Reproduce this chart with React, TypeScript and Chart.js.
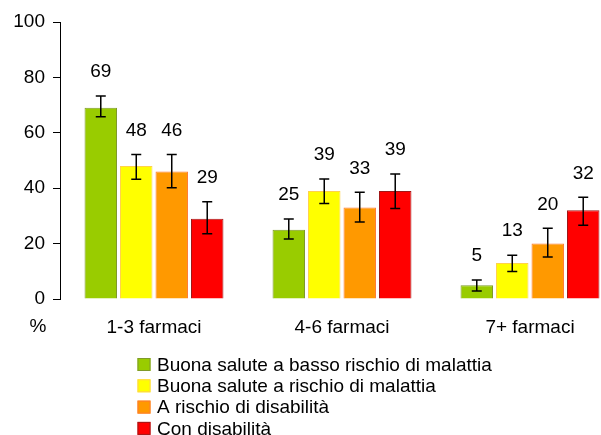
import React, { useEffect, useRef } from "react";
import { Chart, registerables } from "chart.js";

Chart.register(...registerables);

const categories = ["1-3 farmaci", "4-6 farmaci", "7+ farmaci"];
const seriesNames = [
  "Buona salute a basso rischio di malattia",
  "Buona salute a rischio di malattia",
  "A rischio di disabilità",
  "Con disabilità",
];
const greenValues = [69, 25, 5];
const yellowValues = [48, 39, 13];
const orangeValues = [46, 33, 20];
const redValues = [29, 39, 32];

const greenLow = [65.8, 21.7, 2.9];
const greenHigh = [73.3, 28.9, 6.9];
const yellowLow = [43.2, 34.5, 9.9];
const yellowHigh = [52.2, 43.3, 15.8];
const orangeLow = [40.2, 27.8, 15.2];
const orangeHigh = [52.2, 38.5, 25.5];
const redLow = [23.6, 32.7, 26.6];
const redHigh = [35.1, 45.1, 36.7];

const yTicks = [0, 20, 40, 60, 80, 100];

const fills = ["#99CC00", "#FFFF00", "#FF9900", "#FF0000"];
const borders = ["#7F9A2A", "#FFD24A", "#FF7A30", "#A01818"];

const FONT = '"Liberation Sans", Arial, sans-serif';

const lows = [greenLow, yellowLow, orangeLow, redLow];
const highs = [greenHigh, yellowHigh, orangeHigh, redHigh];

const errorBarPlugin = {
  id: "errorBars",
  afterDatasetsDraw(chart: any) {
    const ctx = chart.ctx;
    const yScale = chart.scales.y;
    ctx.save();
    chart.data.datasets.forEach((ds: any, di: number) => {
      const meta = chart.getDatasetMeta(di);
      meta.data.forEach((bar: any, i: number) => {
        const x = bar.x;
        const yl = yScale.getPixelForValue(lows[di][i]);
        const yh = yScale.getPixelForValue(highs[di][i]);
        ctx.strokeStyle = "#000";
        ctx.lineWidth = 1.5;
        ctx.beginPath();
        ctx.moveTo(x, yl);
        ctx.lineTo(x, yh);
        ctx.moveTo(x - 5, yl);
        ctx.lineTo(x + 5, yl);
        ctx.moveTo(x - 5, yh);
        ctx.lineTo(x + 5, yh);
        ctx.stroke();
        ctx.fillStyle = "#000";
        ctx.font = `19px ${FONT}`;
        ctx.textAlign = "center";
        ctx.textBaseline = "middle";
        ctx.fillText(String(ds.data[i]), x, yh - 24);
      });
    });
    ctx.restore();
  },
};

const extrasPlugin = {
  id: "extras",
  afterDraw(chart: any) {
    const ctx = chart.ctx;
    ctx.save();
    ctx.fillStyle = "#000";
    ctx.font = `19px ${FONT}`;
    ctx.textAlign = "center";
    ctx.textBaseline = "middle";
    ctx.fillText("%", 38, 327);
    // legend
    const boxX = 137.5;
    const textX = 157;
    const startY = 364.5;
    const step = 21.3;
    ctx.textAlign = "left";
    seriesNames.forEach((name, i) => {
      const cy = startY + i * step;
      ctx.fillStyle = fills[i];
      ctx.fillRect(boxX, cy - 6.5, 13, 13);
      ctx.strokeStyle = borders[i];
      ctx.lineWidth = 1;
      ctx.strokeRect(boxX + 0.5, cy - 6, 12, 12);
      ctx.fillStyle = "#000";
      ctx.fillText(name, textX, cy + 1);
    });
    ctx.restore();
  },
};

export default function App() {
  const ref = useRef<HTMLCanvasElement | null>(null);
  useEffect(() => {
    if (!ref.current) return;
    const values = [greenValues, yellowValues, orangeValues, redValues];
    const chart = new Chart(ref.current, {
      type: "bar",
      data: {
        labels: categories,
        datasets: seriesNames.map((name, i) => ({
          label: name,
          data: values[i],
          backgroundColor: fills[i],
          borderColor: borders[i],
          borderWidth: 1,
          categoryPercentage: 0.755,
          barPercentage: 0.915,
        })),
      },
      options: {
        responsive: false,
        animation: false,
        layout: { padding: { top: 22, left: 0, right: 6, bottom: 96 } },
        plugins: { legend: { display: false }, tooltip: { enabled: false } },
        scales: {
          x: {
            grid: { display: false, drawTicks: false },
            border: { display: false },
            ticks: {
              color: "#000",
              font: { family: FONT, size: 19 },
              padding: 17,
            },
            afterFit: (s: any) => {
              s.height = 40;
            },
          },
          y: {
            min: 0,
            max: 100,
            afterBuildTicks: (s: any) => {
              s.ticks = yTicks.map((v) => ({ value: v }));
            },
            grid: {
              display: true,
              drawOnChartArea: false,
              drawTicks: true,
              tickLength: 7,
              color: "#000",
            },
            border: { display: true, color: "#000", width: 1 },
            ticks: {
              color: "#000",
              font: { family: FONT, size: 19 },
              padding: 8,
            },
            afterFit: (s: any) => {
              s.width = 60;
            },
          },
        },
      },
      plugins: [errorBarPlugin, extrasPlugin],
    });
    return () => chart.destroy();
  }, []);
  return (
    <div
      style={{
        position: "fixed",
        left: 0,
        top: 0,
        width: 601,
        height: 435,
        overflow: "hidden",
        background: "#fff",
      }}
    >
      <canvas ref={ref} width={630} height={435} style={{ width: 630, height: 435, display: "block" }} />
    </div>
  );
}
